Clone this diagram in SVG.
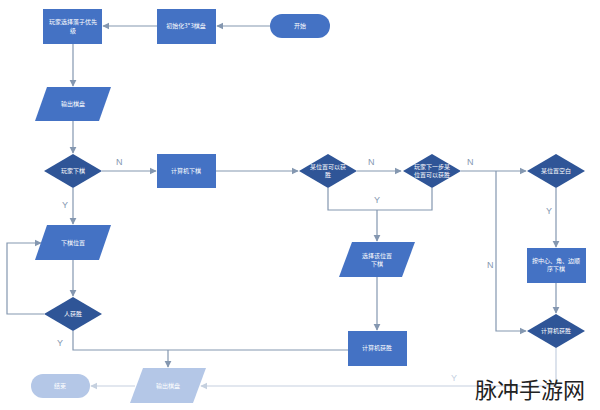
<svg xmlns="http://www.w3.org/2000/svg" width="600" height="410" viewBox="0 0 600 410">
<style>
.r{fill:#4472c4}.d{fill:#2f5597}.l{fill:#b4c7e7}
.t{font-family:"Noto Sans CJK SC",sans-serif;font-size:6px;fill:#fff;text-anchor:middle}
.c{fill:none;stroke:#8497b0;stroke-width:1.2}
.lc{fill:none;stroke:#c5d0df;stroke-width:1.2}
.lb{font-family:"Liberation Sans",sans-serif;font-size:9px;fill:#8497b0}
</style>
<defs><marker id="a" viewBox="0 0 10 10" refX="9" refY="5" markerWidth="6" markerHeight="6" orient="auto"><path d="M0,0L10,5L0,10z" fill="#8497b0"/></marker>
<marker id="b" viewBox="0 0 10 10" refX="9" refY="5" markerWidth="6" markerHeight="6" orient="auto"><path d="M0,0L10,5L0,10z" fill="#c5d0df"/></marker></defs>
<rect width="600" height="410" fill="#fff"/>
<g id="connectors">
<path class="c" d="M270,26H217" marker-end="url(#a)"/>
<path class="c" d="M157,26H103" marker-end="url(#a)"/>
<path class="c" d="M73,44V86" marker-end="url(#a)"/>
<path class="c" d="M73,121V153" marker-end="url(#a)"/>
<path class="c" d="M102,171H156" marker-end="url(#a)"/>
<path class="c" d="M216,171H298" marker-end="url(#a)"/>
<path class="c" d="M357,171H401" marker-end="url(#a)"/>
<path class="c" d="M461,171H526" marker-end="url(#a)"/>
<path class="c" d="M328,188V210H432V188M377,210V241" marker-end="url(#a)"/>
<path class="c" d="M377,277V330" marker-end="url(#a)"/>
<path class="c" d="M556,188V247" marker-end="url(#a)"/>
<path class="c" d="M556,283V313" marker-end="url(#a)"/>
<path class="c" d="M496,171V331H526" marker-end="url(#a)"/>
<path class="c" d="M73,188V224" marker-end="url(#a)"/>
<path class="c" d="M73,260V296" marker-end="url(#a)"/>
<path class="c" d="M44,314H7V243H41" marker-end="url(#a)"/>
<path class="c" d="M73,331V350H348M168,350V367" marker-end="url(#a)"/>
<path class="lc" d="M556,348V386H201" marker-end="url(#b)"/>
<path class="lc" d="M135,386H91" marker-end="url(#b)"/>
</g>
<text class="lb" x="116" y="165">N</text>
<text class="lb" x="368" y="165">N</text>
<text class="lb" x="467" y="165">N</text>
<text class="lb" x="374" y="203">Y</text>
<text class="lb" x="546" y="214">Y</text>
<text class="lb" x="487" y="268">N</text>
<text class="lb" x="62" y="208">Y</text>
<text class="lb" x="57" y="346">Y</text>
<text class="lb" x="451" y="381" fill="#c5d0df" style="fill:#c5d0df">Y</text>
<g id="start"><rect class="r" x="270" y="14" width="60" height="24" rx="12"/><text class="t" x="300" y="28">开始</text></g>
<g id="init"><rect class="r" x="157" y="9" width="59" height="35"/><text class="t" x="186" y="28">初始化3*3棋盘</text></g>
<g id="choose"><rect class="r" x="43" y="9" width="59" height="35"/><text class="t" x="73" y="24">玩家选择落子优先</text><text class="t" x="73" y="33">级</text></g>
<g id="out1"><path class="r" d="M47,87H111L99,121H35z"/><text class="t" x="73" y="106">输出棋盘</text></g>
<g id="playerturn"><path class="d" d="M73,154L102,171L73,188L44,171z"/><text class="t" x="73" y="173">玩家下棋</text></g>
<g id="cpu"><rect class="r" x="157" y="154" width="59" height="34"/><text class="t" x="186" y="173">计算机下棋</text></g>
<g id="win"><path class="d" d="M328,154L357,171L328,188L299,171z"/><text class="t" x="328" y="169">某位置可以获</text><text class="t" x="328" y="177">胜</text></g>
<g id="block"><path class="d" d="M432,154L461,171L432,188L403,171z"/><text class="t" x="432" y="169">玩家下一步某</text><text class="t" x="432" y="177">位置可以获胜</text></g>
<g id="empty"><path class="d" d="M556,154L585,171L556,188L527,171z"/><text class="t" x="556" y="173">某位置空白</text></g>
<g id="sel"><path class="r" d="M352,242H415L402,277H339z"/><text class="t" x="377" y="258">选择该位置</text><text class="t" x="377" y="266">下棋</text></g>
<g id="order"><rect class="r" x="527" y="248" width="59" height="35"/><text class="t" x="556" y="263">按中心、角、边顺</text><text class="t" x="556" y="271">序下棋</text></g>
<g id="cpuwin2"><path class="d" d="M556,314L585,331L556,348L527,331z"/><text class="t" x="556" y="333">计算机获胜</text></g>
<g id="cpuwin"><rect class="r" x="348" y="331" width="59" height="35"/><text class="t" x="377" y="350">计算机获胜</text></g>
<g id="pos"><path class="r" d="M47,225H111L99,260H35z"/><text class="t" x="73" y="245">下棋位置</text></g>
<g id="hwin"><path class="d" d="M73,297L102,314L73,331L44,314z"/><text class="t" x="73" y="316">人获胜</text></g>
<g id="out2"><path class="l" d="M143,368H206L193,403H130z"/><text class="t" x="168" y="388">输出棋盘</text></g>
<g id="end"><rect class="l" x="31" y="374" width="59" height="24" rx="12"/><text class="t" x="60" y="388">结束</text></g>
<text x="475" y="398" style="font-family:'Noto Sans CJK SC',sans-serif;font-size:22px;fill:#222">脉冲手游网</text>
</svg>
